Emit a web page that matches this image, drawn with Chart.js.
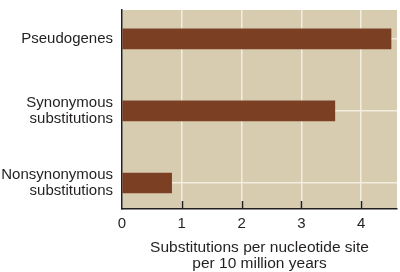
<!DOCTYPE html>
<html>
<head>
<meta charset="utf-8">
<script src="https://cdn.jsdelivr.net/npm/chart.js@4"></script>
<style>
  html, body { margin: 0; padding: 0; background: #ffffff; }
  #wrap { width: 400px; height: 272px; }
</style>
</head>
<body>
<div id="wrap"><canvas id="chart" width="400" height="272"></canvas></div>
<script>
// dados
const categories = [
  ['Pseudogenes'],
  ['Synonymous', 'substitutions'],
  ['Nonsynonymous', 'substitutions']
];
const rates = [4.5, 3.56, 0.83];
const xTicks = [0, 1, 2, 3, 4];
const xTitle = ['Substitutions per nucleotide site', 'per 10 million years'];

const tan = '#d8ccb0';
const brown = '#7b3f23';
const gridColor = '#f3ede0';
const ink = '#231f20';

// fundo da área do gráfico + marcas internas do eixo x
const plotDecor = {
  id: 'plotDecor',
  beforeDraw(chart) {
    const { ctx, chartArea } = chart;
    ctx.save();
    ctx.fillStyle = tan;
    ctx.fillRect(chartArea.left, chartArea.top, chartArea.right - chartArea.left, chartArea.bottom - chartArea.top);
    ctx.restore();
  },
  afterDatasetsDraw(chart) {
    const { ctx, chartArea } = chart;
    const x = chart.scales.x;
    ctx.save();
    ctx.strokeStyle = ink;
    ctx.lineWidth = 1.5;
    xTicks.forEach(v => {
      if (v === 0) return;
      const px = Math.round(x.getPixelForValue(v)) + 0.5;
      ctx.beginPath();
      ctx.moveTo(px, chartArea.bottom - 8);
      ctx.lineTo(px, chartArea.bottom);
      ctx.stroke();
    });
    ctx.restore();
  }
};

new Chart(document.getElementById('chart'), {
  type: 'bar',
  data: {
    datasets: [{
      data: rates.map((v, i) => ({ x: v, y: i })),
      backgroundColor: brown,
      borderWidth: 0,
      barThickness: 20
    }]
  },
  options: {
    indexAxis: 'y',
    responsive: false,
    animation: false,
    layout: { padding: { top: 10, right: 3, left: 0, bottom: 0 } },
    plugins: { legend: { display: false }, tooltip: { enabled: false } },
    scales: {
      x: {
        type: 'linear',
        min: 0,
        max: 4.6,
        afterBuildTicks: s => { s.ticks = xTicks.map(v => ({ value: v })); },
        afterFit: s => { s.height = 63; s.paddingLeft = 0; s.paddingRight = 0; },
        grid: { color: gridColor, lineWidth: 1.5, drawTicks: false },
        border: { display: true, color: ink, width: 1.5 },
        ticks: {
          color: ink,
          padding: 6,
          font: { family: 'Liberation Sans', size: 15 }
        },
        title: {
          display: true,
          text: xTitle,
          color: ink,
          padding: { top: 1, bottom: 0 },
          font: { family: 'Liberation Sans', size: 15.5, lineHeight: 1.05 }
        }
      },
      y: {
        type: 'linear',
        reverse: true,
        offset: false,
        min: -0.4,
        max: 2.36,
        afterBuildTicks: s => { s.ticks = categories.map((c, i) => ({ value: i })); },
        afterFit: s => { s.width = 122; s.paddingTop = 0; s.paddingBottom = 0; },
        grid: { color: gridColor, lineWidth: 1.5, drawTicks: false, offset: false },
        border: { display: true, color: ink, width: 1.5 },
        ticks: {
          color: ink,
          padding: 9,
          callback: v => categories[v],
          font: { family: 'Liberation Sans', size: 15, lineHeight: 1.1 }
        }
      }
    }
  },
  plugins: [plotDecor]
});
</script>
</body>
</html>
